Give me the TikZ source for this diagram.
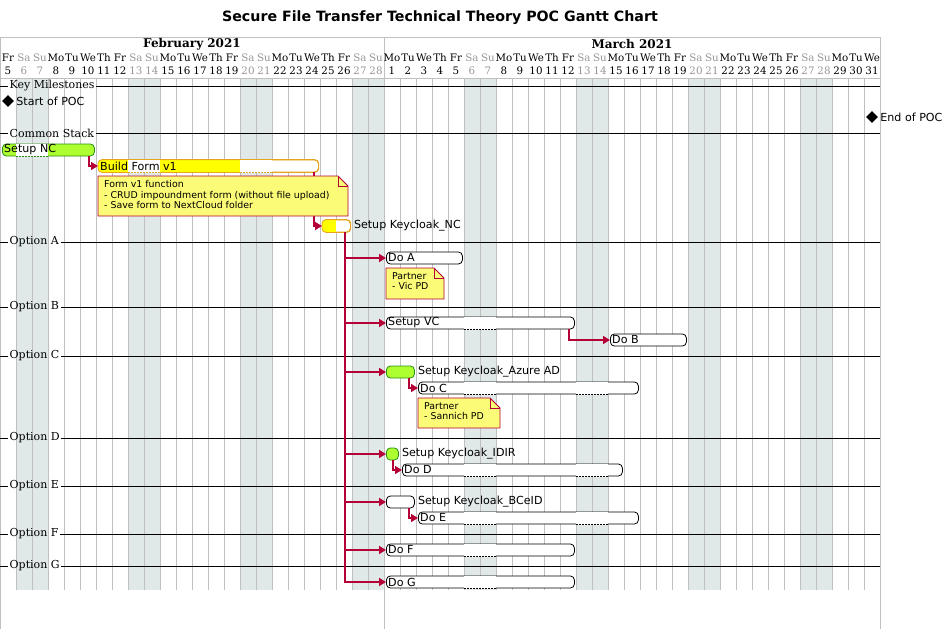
\documentclass[tikz,border=0pt]{standalone}
\usepackage{fontspec}
\setmainfont{DejaVu Sans}
\newfontfamily\hdrfont{DejaVu Serif}
\usetikzlibrary{arrows.meta,positioning,shapes.geometric}
\definecolor{gridgray}{RGB}{192,192,192}
\definecolor{wkend}{RGB}{224,232,232}
\definecolor{wkgray}{RGB}{150,150,150}
\definecolor{deplink}{RGB}{180,0,54}
\definecolor{noteyel}{RGB}{251,251,119}
\definecolor{ncgreen}{RGB}{173,255,47}
\definecolor{ncborder}{RGB}{40,140,20}
\definecolor{progyel}{RGB}{255,255,0}
\definecolor{progborder}{RGB}{230,165,30}

\begin{document}
\begin{tikzpicture}[x=1pt,y=-1pt,
  bar/.style={draw,fill=white,rounded corners=4pt,minimum height=12pt,inner sep=0pt,anchor=west,line width=0.8pt},
  greenbar/.style={fill=ncgreen,draw=ncborder},
  progbar/.style={draw=progborder},
  tasklbl/.style={font=\fontsize{11.1}{13}\selectfont,inner sep=0pt},
  seclbl/.style={font=\hdrfont\fontsize{11}{13}\selectfont,anchor=west,inner sep=1.5pt},
  daylbl/.style={font=\hdrfont\fontsize{10.3}{12}\selectfont,inner sep=0pt},
  notebox/.style={fill=noteyel,draw=deplink,line width=0.8pt},
  notetxt/.style={font=\fontsize{9.4}{10.8}\selectfont,align=left,anchor=north west,inner sep=0pt},
  milestone/.style={diamond,fill=black,minimum size=12pt,inner sep=0pt},
  dep/.style={deplink,line width=1.5pt,-{Triangle[length=7pt,width=8pt]}}]
  \useasboundingbox (0,0) rectangle (945,629);
  % Title
  \node[font=\bfseries\fontsize{14.2}{16}\selectfont] (title) at (440,18) {Secure File Transfer Technical Theory POC Gantt Chart};
  % Weekends and day grid
  \foreach \k in {0,...,7}{
    \fill[wkend] ({(1+7*\k)*16},78) rectangle ({(3+7*\k)*16},590);
  }
  \foreach \i in {1,...,54}{
    \draw[gridgray,line width=0.8pt] ({\i*16},78) -- ({\i*16},590);
  }
  \draw[gridgray,line width=0.8pt] (0,37) -- (880,37) (0,78) -- (880,78)
    (0,37) -- (0,629) (384,37) -- (384,629) (880,37) -- (880,629);
  % Header: months and days
  \node[font=\hdrfont\bfseries\fontsize{12}{14}\selectfont] (feb) at (192,44) {February 2021};
  \node[font=\hdrfont\bfseries\fontsize{12}{14}\selectfont] (mar) at (632,44) {March 2021};
  \foreach \i in {0,...,54}{
    \pgfmathtruncatemacro\wdy{mod(\i,7)}
    \pgfmathsetmacro\dn{{"Fr","Sa","Su","Mo","Tu","We","Th"}[\wdy]}
    \pgfmathtruncatemacro\dnum{\i<24 ? \i+5 : \i-23}
    \ifnum\wdy>0 \ifnum\wdy<3 \def\dc{wkgray}\else\def\dc{black}\fi\else\def\dc{black}\fi
    \node[daylbl,text=\dc] (d\i) at ({\i*16+8},58) {\dn};
    \node[daylbl,text=\dc] (n\i) at ({\i*16+8},71) {\dnum};
  }
  % Section separators
  \foreach \s/\y/\t in {ms/86/Key Milestones,cs/133/Common Stack,opa/242/Option A,opb/307/Option B,
      opc/356/Option C,opd/438/Option D,ope/486/Option E,opf/534/Option F,opg/566/Option G}{
    \node[seclbl] (\s) at (8,\y) {\t};
    \draw[line width=0.8pt] (0,\y) -- (\s.west) (\s.east) -- (880,\y);
  }
  % Milestones
  \node[milestone] (start) at (8,101) {};
  \node[tasklbl,right=2pt of start] (startl) {Start of POC};
  \node[milestone] (end) at (872,117) {};
  \node[tasklbl,right=2pt of end] (endl) {End of POC};
  % Task bars
  \foreach \n/\s/\e/\y/\st in {nc/0/6/150/greenbar,form/6/20/166/progbar,kcnc/20/22/226/progbar,
      doa/24/29/258/bar,vc/24/36/323/bar,dob/38/43/340/bar,azure/24/26/372/greenbar,doc/26/40/388/bar,
      idir/24/25/454/greenbar,dod/25/39/470/bar,bceid/24/26/502/bar,doe/26/40/518/bar,
      dof/24/36/550/bar,dog/24/36/582/bar}{
    \node[bar,\st,minimum width={(\e-\s)*16-4}] (\n) at ({\s*16+2},\y) {};
  }
  % Progress
  \begin{scope}
    \clip[rounded corners=4pt] (form.north west) rectangle (form.south east);
    \fill[progyel] (form.north west) rectangle (240,0 |- form.south);
  \end{scope}
  \begin{scope}
    \clip[rounded corners=4pt] (kcnc.north west) rectangle (kcnc.south east);
    \fill[progyel] (kcnc.north west) rectangle (336,0 |- kcnc.south);
  \end{scope}
  \draw[progborder,line width=0.8pt,rounded corners=4pt] (form.north west) rectangle (form.south east)
    (kcnc.north west) rectangle (kcnc.south east);
  % Weekend gaps inside bars
  \foreach \a/\y/\c in {1/150/ncborder,8/166/progborder,15/166/progborder,29/323/black,29/388/black,
      36/388/black,29/470/black,36/470/black,29/518/black,36/518/black,29/550/black,29/582/black}{
    \fill[white] ({\a*16+0.4},{\y-5.6}) rectangle ({\a*16+31.6},{\y+6.5});
    \draw[\c,line width=0.8pt,dash pattern=on 1.5pt off 1.5pt] ({\a*16},{\y+6}) -- ({\a*16+32},{\y+6});
  }
  % Dependencies
  \draw[dep] ([xshift=-6pt]nc.south east) |- (form.west);
  \draw[dep] ([xshift=-5pt]form.south east) |- (kcnc.west);
  \foreach \t in {doa,vc,azure,idir,bceid,dof,dog}{
    \draw[dep] ([xshift=-6pt]kcnc.south east) |- (\t.west);
  }
  \draw[dep] ([xshift=-6pt]vc.south east) |- (dob.west);
  \draw[dep] ([xshift=-6pt]azure.south east) |- (doc.west);
  \draw[dep] ([xshift=-6pt]idir.south east) |- (dod.west);
  \draw[dep] ([xshift=-6pt]bceid.south east) |- (doe.west);
  % Bar labels
  \foreach \n/\t in {nc/Setup NC,form/Build Form v1,doa/Do A,vc/Setup VC,dob/Do B,doc/Do C,
      dod/Do D,doe/Do E,dof/Do F,dog/Do G}{
    \node[tasklbl,right=2pt of \n.west] (\n l) {\t};
  }
  \foreach \n/\t in {kcnc/Setup Keycloak\_NC,azure/Setup Keycloak\_Azure AD,
      idir/Setup Keycloak\_IDIR,bceid/Setup Keycloak\_BCeID}{
    \node[tasklbl,right=3pt of \n.east] (\n l) {\t};
  }
  % Notes
  \draw[notebox] (98,176) -- (338,176) -- (348,186) -- (348,216) -- (98,216) -- cycle;
  \draw[deplink,line width=0.8pt] (338,176) |- (348,186);
  \node[notetxt] (formnote) at (104,180) {Form v1 function\\- CRUD impoundment form (without file upload)\\- Save form to NextCloud folder};
  \draw[notebox] (386,268) -- (434,268) -- (444,278) -- (444,299) -- (386,299) -- cycle;
  \draw[deplink,line width=0.8pt] (434,268) |- (444,278);
  \node[notetxt] (vicnote) at (392,272) {Partner\\- Vic PD};
  \draw[notebox] (418,398) -- (490,398) -- (500,408) -- (500,428) -- (418,428) -- cycle;
  \draw[deplink,line width=0.8pt] (490,398) |- (500,408);
  \node[notetxt] (sannote) at (424,402) {Partner\\- Sannich PD};
\end{tikzpicture}
\end{document}
